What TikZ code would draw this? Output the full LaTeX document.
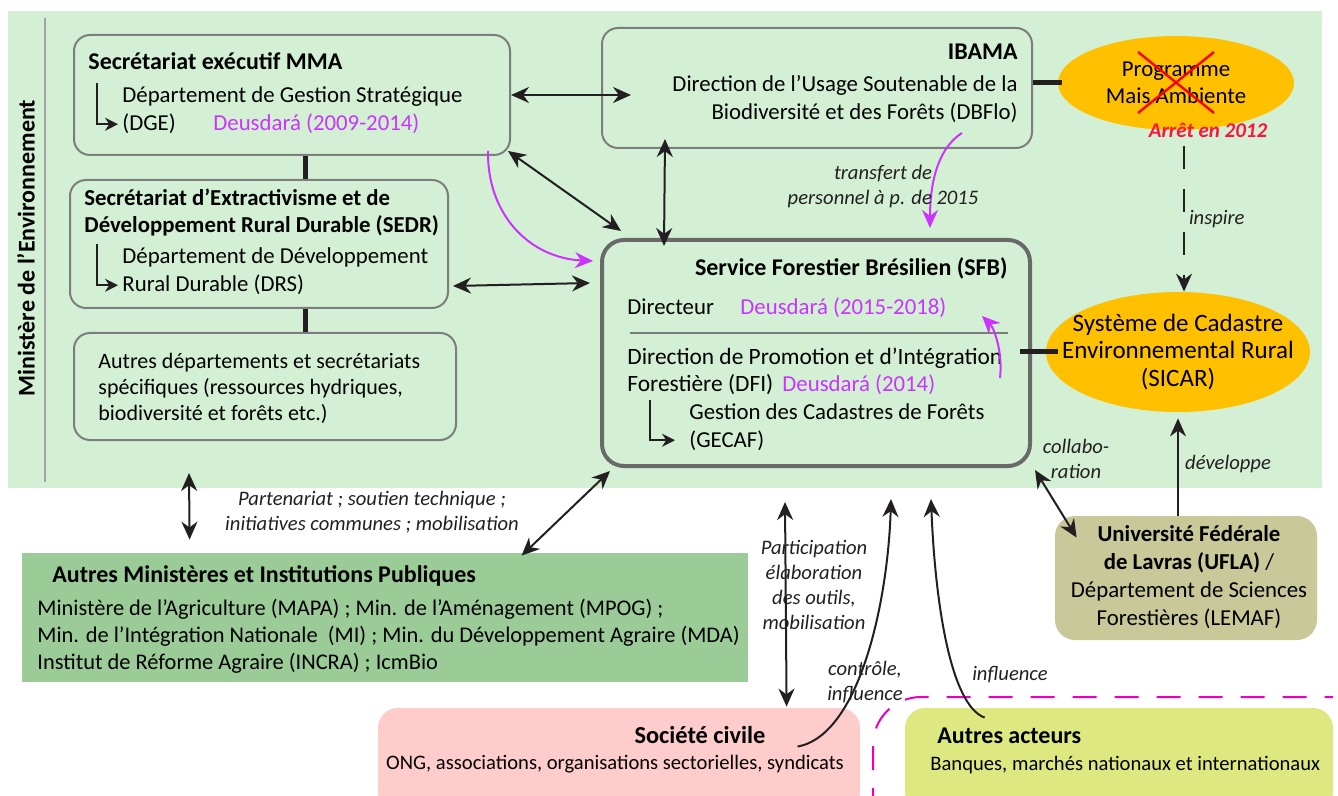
\documentclass[tikz,border=0pt]{standalone}
\usepackage{fontspec}
\setmainfont{Carlito}
\usetikzlibrary{arrows.meta,positioning,fit,calc,shapes.geometric}

\definecolor{envgreen}{RGB}{211,240,212}
\definecolor{boxgray}{RGB}{125,125,125}
\definecolor{sfbgray}{RGB}{105,105,105}
\definecolor{gold}{RGB}{255,192,0}
\definecolor{mingreen}{RGB}{155,204,152}
\definecolor{olive}{RGB}{201,200,153}
\definecolor{civpink}{RGB}{255,204,204}
\definecolor{actlime}{RGB}{221,232,128}
\definecolor{deus}{RGB}{204,51,255}
\definecolor{dashpink}{RGB}{236,0,190}
\definecolor{ink}{RGB}{35,31,32}
\definecolor{stopred}{RGB}{255,20,60}

\begin{document}
\begin{tikzpicture}[x=0.5pt, y=-0.5pt, >={Stealth[length=9pt,width=8pt]},
    orgbox/.style={draw=boxgray, line width=1pt, rounded corners=8pt, inner sep=0pt},
    fillbox/.style={inner sep=0pt, rounded corners=10pt},
    txt/.style={anchor=base west, inner sep=0pt, font=\fontsize{11.4}{14}\selectfont},
    ttl/.style={anchor=base west, inner sep=0pt, font=\bfseries\fontsize{12}{14}\selectfont},
    lbl/.style={inner sep=0pt, align=center, font=\itshape\fontsize{10.3}{12.5}\selectfont, text=ink},
    deustxt/.style={txt, text=deus},
    tiebar/.style={ink, line width=2.5pt},
    link/.style={<->, ink, line width=1pt},
    onelink/.style={->, ink, line width=1pt},
    magarrow/.style={->, deus, line width=1pt},
    elbow/.style={-{Stealth[length=6.5pt,width=6.5pt]}, ink, line width=0.8pt}]

    % Frame
    \useasboundingbox (0,0) rectangle (1338,796);
    \fill[envgreen] (8,11) rectangle (1322,488);
    \draw[boxgray!70, line width=0.6pt] (45,18) -- (45,482);
    \node[rotate=90, inner sep=0pt, font=\bfseries\fontsize{12}{14}\selectfont] (mintitle) at (26,248) {Ministère de l’Environnement};

    % Secretariat executif
    \node[orgbox, fit={(74,35) (510,155)}] (mma) {};
    \node[ttl] (mmatitle) at (88,70) {Secrétariat exécutif MMA};
    \node[txt] (dge) at (122,103) {Département de Gestion Stratégique};
    \node[txt] (dge2) at (122,131) {(DGE)};
    \node[deustxt] (deusdge) at (213,131) {Deusdará (2009-2014)};
    \draw[elbow] ($(dge.west)+(-25,-14)$) |- ($(dge2.west)+(-4,0)$);

    % SEDR
    \node[orgbox, fit={(70,180) (448,308)}] (sedr) {};
    \node[ttl, font=\bfseries\fontsize{11.4}{14}\selectfont] (sedrtitle) at (84,206) {Secrétariat d’Extractivisme et de};
    \node[ttl, font=\bfseries\fontsize{11.4}{14}\selectfont] (sedrtitle2) at (84,233) {Développement Rural Durable (SEDR)};
    \node[txt] (drs) at (122,264) {Département de Développement};
    \node[txt] (drs2) at (122,292) {Rural Durable (DRS)};
    \draw[elbow] ($(drs.west)+(-25,-14)$) |- ($(drs2.west)+(-4,0)$);

    % Other departments
    \node[orgbox, fit={(74,333) (456,440)}] (depts) {};
    \node[txt, anchor=west, align=left, font=\fontsize{11}{13}\selectfont] (deptstxt) at (98,388)
        {Autres départements et secrétariats\\spécifiques (ressources hydriques,\\biodiversité et forêts etc.)};

    \draw[tiebar] (mma.south -| 305,0) -- (sedr.north -| 305,0);
    \draw[tiebar] (sedr.south -| 305,0) -- (depts.north -| 305,0);

    % IBAMA
    \node[orgbox, fit={(602,28) (1032,148)}] (ibama) {};
    \node[ttl, anchor=base east] (ibamatitle) at (1018,60) {IBAMA};
    \node[txt, anchor=base east] (dbflo) at (1018,92) {Direction de l’Usage Soutenable de la};
    \node[txt, anchor=base east] (dbflo2) at (1018,120) {Biodiversité et des Forêts (DBFlo)};

    % Programme Mais Ambiente
    \node[ellipse, fill=gold, minimum width=118pt, minimum height=47pt, inner sep=0pt] (pma) at (1176,83) {};
    \node[align=center, inner sep=0pt, font=\fontsize{11.4}{13.5}\selectfont] (pmatxt) at (pma) {Programme\\Mais Ambiente};
    \draw[red, line width=1.2pt] ($(pma.center)+(-38,-31)$) -- ($(pma.center)+(38,30)$)
        ($(pma.center)+(38,-31)$) -- ($(pma.center)+(-38,30)$);
    \node[inner sep=0pt, text=stopred, font=\bfseries\itshape\fontsize{10.5}{12}\selectfont] (arret) at (1208,130) {Arrêt en 2012};
    \draw[tiebar] (ibama.east |- pma.west) -- ($(pma.west)+(4,0)$);

    % SFB
    \node[draw=sfbgray, line width=2pt, rounded corners=11pt, inner sep=0pt, fit={(602,240) (1030,466)}] (sfb) {};
    \node[ttl, anchor=base east] (sfbtitle) at (1008,276) {Service Forestier Brésilien (SFB)};
    \node[txt] (dir) at (627,315) {Directeur};
    \node[deustxt] (deusdir) at (740,315) {Deusdará (2015-2018)};
    \draw[boxgray, line width=0.8pt] (630,333) -- (1008,333);
    \node[txt, font=\fontsize{11.7}{14}\selectfont] (dfi) at (627,365) {Direction de Promotion et d’Intégration};
    \node[txt, font=\fontsize{11.7}{14}\selectfont] (dfi2) at (627,392) {Forestière (DFI)};
    \node[deustxt] (deusdfi) at (782,392) {Deusdará (2014)};
    \node[txt] (gecaf) at (689,420) {Gestion des Cadastres de Forêts};
    \node[txt] (gecaf2) at (689,447) {(GECAF)};
    \draw[elbow] ($(gecaf.west)+(-39,-12)$) |- ($(gecaf2.west)+(-14,0)$);
    \coordinate (dfimark) at (1000,378);
    \coordinate (dirmark) at (982,316);
    \draw[magarrow] (dfimark) .. controls (1003,352) and (994,328) .. (dirmark);

    % SICAR
    \node[ellipse, fill=gold, minimum width=132pt, minimum height=60pt, inner sep=0pt] (sicar) at (1178,352) {};
    \node[align=center, inner sep=0pt, font=\fontsize{12.5}{13.8}\selectfont] (sicartxt) at (sicar)
        {Système de Cadastre\\Environnemental Rural\\(SICAR)};
    \draw[tiebar] ($(sfb.east |- sicar.west)+(-12,0)$) -- ($(sicar.west)+(12,0)$);
    \draw[->, ink, line width=1pt, dash pattern=on 11.5pt off 10pt] ($(arret.south -| sicar.north)+(6,8)$) -- ($(sicar.north)+(6,0)$)
        node[lbl, midway, right=2pt] (inspirelbl) {inspire};

    % Transfer IBAMA -> SFB
    \coordinate (transfrom) at (962,133);
    \coordinate (transto) at (930,228);
    \draw[magarrow] (transfrom) .. controls (935,150) and (930,190) .. (transto);
    \node[lbl] (translbl) at (883,187) {transfert de\\personnel à p. de 2015};

    % Links inside the ministry
    \draw[link] (mma.east) -- ($(ibama.west |- mma.east)+(30,0)$);
    \draw[link] ($(mma.south east)+(-3,-5)$) -- ($(sfb.north west)+(21,-7)$);
    \draw[magarrow] ($(mma.south east)+(-23,-5)$) .. controls (487,215) and (530,258) .. ($(sfb.north west)+(-7,23)$);
    \draw[link] ($(sedr.south east)+(4,-23)$) -- ($(sfb.north west)+(-10,45)$);
    \draw[link] ($(ibama.south west)+(64,-10)$) -- ($(sfb.north west)+(64,8)$);

    % Other ministries
    \node[fill=mingreen, inner sep=0pt, fit={(22,553) (748,682)}] (minist) {};
    \node[ttl] (ministtitle) at (52,582) {Autres Ministères et Institutions Publiques};
    \node[txt, anchor=west, align=left, font=\fontsize{11.2}{13.5}\selectfont] (ministtxt) at (37,636)
        {Ministère de l’Agriculture (MAPA) ; Min. de l’Aménagement (MPOG) ;\\
         Min. de l’Intégration Nationale~~(MI) ; Min. du Développement Agraire (MDA)\\
         Institut de Réforme Agraire (INCRA) ; IcmBio};
    \draw[link] ($(depts.south west)+(116,32)$) -- ($(minist.north west)+(168,-13)$);
    \node[lbl] (partlbl) at (372,512) {Partenariat ; soutien technique ;\\initiatives communes ; mobilisation};
    \draw[link] ($(sfb.south west)+(10,3)$) -- ($(minist.north west)+(500,3)$);

    % Civil society
    \node[fill=civpink, fillbox, fit={(378,708) (860,812)}] (civ) {};
    \node[inner sep=0pt, font=\bfseries\fontsize{12.2}{14}\selectfont] (civtitle) at (700,735) {Société civile};
    \node[inner sep=0pt, font=\fontsize{10.3}{12}\selectfont] (civtxt) at (615,764) {ONG, associations, organisations sectorielles, syndicats};

    % Other actors
    \node[fill=actlime, fillbox, fit={(905,708) (1333,812)}] (act) {};
    \node[ttl] (acttitle) at (937,743) {Autres acteurs};
    \node[txt, font=\fontsize{10.3}{12}\selectfont] (acttxt) at (930,770) {Banques, marchés nationaux et internationaux};
    \draw[dashpink, line width=1pt, dash pattern=on 12pt off 9pt, rounded corners=24pt] (873,812) -- (873,697) -- (1333,697);

    % UFLA
    \node[fill=olive, fillbox, fit={(1055,516) (1317,640)}] (ufla) {};
    \node[inner sep=0pt, align=center, font=\fontsize{11.4}{14}\selectfont] (uflatxt) at (1189,577)
        {\textbf{Université Fédérale}\\\textbf{de Lavras (UFLA)} /\\Département de Sciences\\Forestières (LEMAF)};

    % Links to the outside
    \draw[link] ($(sfb.south west)+(185,34)$) -- ($(civ.north west)+(409,-1)$);
    \node[lbl] (partiplbl) at (814,585) {Participation\\élaboration\\des outils,\\mobilisation};
    \draw[onelink] ($(civ.north west)+(420,39)$) .. controls (860,735) and (888,600) .. ($(sfb.south west)+(291,31)$);
    \node[lbl] (ctrllbl) at (865,682) {contrôle,\\influence};
    \draw[onelink] ($(act.north west)+(80,10)$) .. controls (950,705) and (935,600) .. ($(sfb.south west)+(331,31)$);
    \node[lbl] (inflbl) at (1010,675) {influence};
    \draw[link] ($(sfb.south east)+(3,2)$) -- ($(ufla.north west)+(22,22)$);
    \node[lbl] (collablbl) at (1076,459) {collabo-\\ration};
    \draw[onelink] (ufla.north -| sicar.south) -- ($(sicar.south)+(0,6)$);
    \node[lbl] (devlbl) at (1228,464) {développe};
\end{tikzpicture}
\end{document}
